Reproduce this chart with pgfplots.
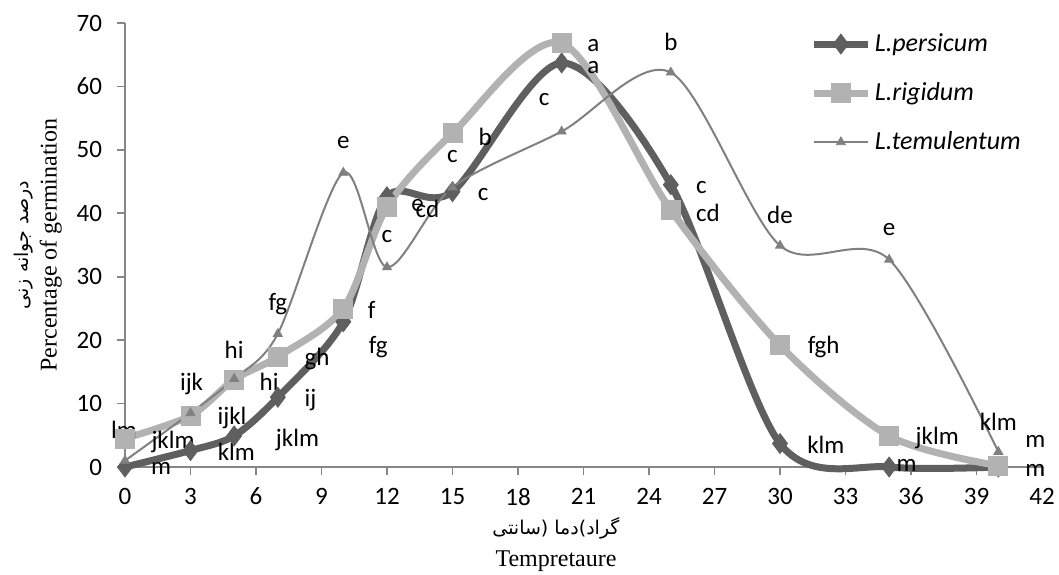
\documentclass[border=0pt]{standalone}
\usepackage{pgfplots}
\pgfplotsset{compat=1.18}
\usepackage{fontspec}
\setmainfont{Carlito}
\newfontfamily\timesfont{Liberation Serif}
\newfontfamily\arabicfont[Script=Arabic]{DejaVu Sans}
\TeXXeTstate=1

\definecolor{cPer}{RGB}{95,95,95}
\definecolor{cRig}{RGB}{178,178,178}
\definecolor{cTem}{RGB}{128,128,128}
\definecolor{axgray}{RGB}{134,134,134}
\tikzset{lbl/.style={font=\fontsize{12.5}{14}\selectfont, inner sep=0pt, anchor=center}}

% Germination percentage vs temperature
\pgfplotstableread{
t   per   rig   tem
0   0.0   4.5   1.0
3   2.6   8.1   8.5
5   4.9  13.8  13.9
7  11.0  17.4  21.0
10 22.9  25.0  46.4
12 42.6  41.0  31.5
15 43.4  52.6  44.1
20 63.7  66.8  52.9
25 44.5  40.5  62.2
30  3.7  19.2  34.9
35  0.0   4.9  32.7
40  0.0   0.2   2.4
}\germ

\begin{document}
\begin{tikzpicture}
\useasboundingbox (-62.5pt,-53.5pt) rectangle (467pt,233.5pt);
\begin{axis}[
    at={(0,0)}, anchor=south west,
    scale only axis,
    width=458.5pt, height=222pt,
    xmin=0, xmax=42, ymin=0, ymax=70,
    xtick={0,3,...,42},
    ytick={0,10,...,70},
    axis x line*=bottom, axis y line*=left,
    axis line style={draw=axgray, line width=1pt, -},
    tick align=outside,
    major tick length=4pt,
    tick style={draw=axgray, line width=0.8pt},
    /pgf/number format/assume math mode=true,
    tick label style={font=\fontsize{12.5}{14}\selectfont},
    x tick label style={yshift=-3pt},
    y tick label style={xshift=-4pt},
    clip=false,
    xlabel={{\arabicfont\fontsize{9.5}{11}\selectfont({\arabicfont سانتی} {\arabicfont گراد}){\arabicfont دما}}\\[4pt]{\timesfont\fontsize{12}{14}\selectfont Tempretaure}},
    xlabel style={at={(axis description cs:0.47,0)}, anchor=center, yshift=-39pt, align=center},
    ylabel={{\arabicfont\fontsize{9.5}{11}\selectfont\beginR درصد جوانه زنی\endR}\\[2pt]{\timesfont\fontsize{12}{14}\selectfont Percentage of germination}},
    ylabel style={at={(axis description cs:-0.095,0.5)}, anchor=center, align=center},
    legend style={at={(rel axis cs:0.741,0.995)}, anchor=north west, draw=none, fill=none,
        font=\itshape\fontsize{13}{15}\selectfont, row sep=10pt},
    legend cell align=left,
    legend image code/.code={\draw[mark repeat=2,mark phase=2] plot coordinates {(0pt,0pt) (13.25pt,0pt) (26.5pt,0pt)};},
]
\addplot[cPer, line width=3.5pt, smooth, tension=0.5, mark=diamond*, mark size=5pt,
    mark options={fill=cPer, draw=cPer, line width=0.4pt}]
    table[x=t, y=per] {\germ};
\addlegendentry{L.persicum}
\addplot[cRig, line width=3.5pt, smooth, tension=0.5, mark=square*, mark size=4.75pt,
    mark options={fill=cRig, draw=cRig, line width=0.4pt}]
    table[x=t, y=rig] {\germ};
\addlegendentry{L.rigidum}
\addplot[cTem, line width=1pt, smooth, tension=0.5, mark=triangle*, mark size=2.6pt,
    mark options={fill=cTem, draw=cTem, line width=0.4pt}]
    table[x=t, y=tem] {\germ};
\addlegendentry{L.temulentum}

% significance letters
\node[lbl] at (axis cs:-0.05,5.8) {lm};
\node[lbl] at (axis cs:2.2,3.9) {jklm};
\node[lbl] at (axis cs:1.65,-0.3) {m};
\node[lbl] at (axis cs:3.05,13.1) {ijk};
\node[lbl] at (axis cs:5.0,18.4) {hi};
\node[lbl] at (axis cs:4.9,7.7) {ijkl};
\node[lbl] at (axis cs:5.1,2.4) {klm};
\node[lbl] at (axis cs:7.0,25.7) {fg};
\node[lbl] at (axis cs:6.6,13.4) {hi};
\node[lbl] at (axis cs:8.8,17.0) {gh};
\node[lbl] at (axis cs:8.5,10.6) {ij};
\node[lbl] at (axis cs:7.9,4.3) {jklm};
\node[lbl] at (axis cs:10.0,51.2) {e};
\node[lbl] at (axis cs:11.3,24.8) {f};
\node[lbl] at (axis cs:11.6,18.9) {fg};
\node[lbl] at (axis cs:12.0,36.3) {c};
\node[lbl] at (axis cs:13.4,41.3) {e};
\node[lbl] at (axis cs:13.85,40.7) {cd};
\node[lbl] at (axis cs:15.0,49.0) {c};
\node[lbl] at (axis cs:16.5,52.0) {b};
\node[lbl] at (axis cs:16.4,42.9) {c};
\node[lbl] at (axis cs:19.2,57.9) {c};
\node[lbl] at (axis cs:21.45,66.5) {a};
\node[lbl] at (axis cs:21.45,63.0) {a};
\node[lbl] at (axis cs:25.0,67.0) {b};
\node[lbl] at (axis cs:26.4,44.0) {c};
\node[lbl] at (axis cs:26.7,40.0) {cd};
\node[lbl] at (axis cs:30.0,39.7) {de};
\node[lbl] at (axis cs:35.0,37.4) {e};
\node[lbl] at (axis cs:32.0,19.0) {fgh};
\node[lbl] at (axis cs:32.1,3.5) {klm};
\node[lbl] at (axis cs:37.2,4.6) {jklm};
\node[lbl] at (axis cs:35.8,0.3) {m};
\node[lbl] at (axis cs:40.0,7.2) {klm};
\node[lbl] at (axis cs:41.7,4.1) {m};
\node[lbl] at (axis cs:41.7,-0.5) {m};
\end{axis}
\end{tikzpicture}
\end{document}
